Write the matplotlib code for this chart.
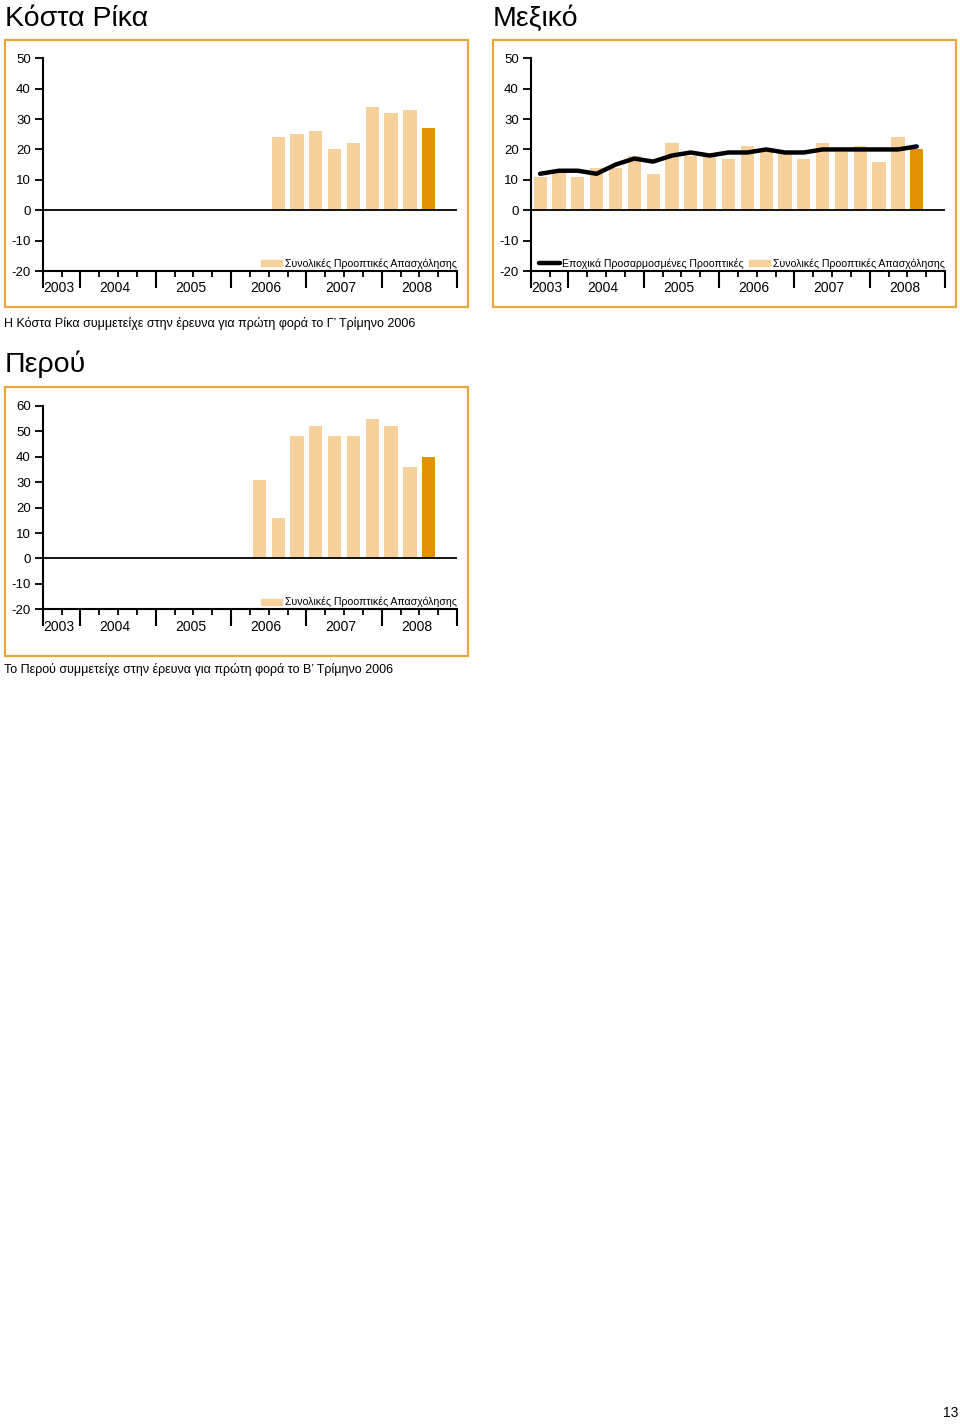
import matplotlib
matplotlib.use('Agg')
import matplotlib.pyplot as plt
import numpy as np
from matplotlib.patches import Rectangle, Patch
from matplotlib.lines import Line2D
from matplotlib.transforms import ScaledTranslation

plt.rcParams['font.family'] = ['Liberation Sans', 'DejaVu Sans']
plt.rcParams['axes.unicode_minus'] = False

# quarters shown on the x axis: 2003 Q3 .. 2008 Q4
quarters = ['2003Q3', '2003Q4'] + [f'{y}Q{q}' for y in range(2004, 2009) for q in range(1, 5)]
years = ['2003', '2004', '2005', '2006', '2007', '2008']

# Net employment outlook (%), last value = current quarter
costa_rica_start = '2006Q3'
costa_rica = [24, 25, 26, 20, 22, 34, 32, 33, 27]

mexico_start = '2003Q3'
mexico = [11, 13, 11, 14, 14, 18, 12, 22, 18, 18, 17, 21, 20, 19, 17, 22, 19, 21, 16, 24, 20]
mexico_sa = [12, 13, 13, 12, 15, 17, 16, 18, 19, 18, 19, 19, 20, 19, 19, 20, 20, 20, 20, 20, 21]

peru_start = '2006Q2'
peru = [31, 16, 48, 52, 48, 48, 55, 52, 36, 40]

lbl_total = 'Συνολικές Προοπτικές Απασχόλησης'
lbl_sa = 'Εποχικά Προσαρμοσμένες Προοπτικές'

LIGHT = '#F6D19B'
DARK = '#E39205'
FRAME = '#E7A73A'

W, H = 960, 1424
fig = plt.figure(figsize=(W / 100, H / 100), dpi=100)


def rect(left, top, right, bottom):
    return [left / W, 1 - bottom / H, (right - left) / W, (bottom - top) / H]


def frame(left, top, right, bottom):
    fig.add_artist(Rectangle((left / W, 1 - bottom / H), (right - left) / W, (bottom - top) / H,
                             transform=fig.transFigure, fill=False, edgecolor=FRAME, lw=1.6))


def panel(pos, values, start, ymax, sa=None):
    ax = fig.add_axes(pos)
    i0 = quarters.index(start)
    x = np.arange(i0, i0 + len(values)) + 0.5
    colors = [LIGHT] * (len(values) - 1) + [DARK]
    ax.bar(x, values, width=0.7, color=colors, zorder=2)
    ax.axhline(0, color='black', lw=1.3, zorder=3)
    handles = []
    labels = []
    if sa is not None:
        ax.plot(x, sa, color='black', lw=3.2, solid_capstyle='round', solid_joinstyle='round', zorder=4)
        handles.append(Line2D([], [], color='black', lw=3.2, solid_capstyle='round'))
        labels.append(lbl_sa)
    handles.append(Patch(color=LIGHT))
    labels.append(lbl_total)

    n = len(quarters)
    ax.set_xlim(0, n)
    ax.set_ylim(-20, ymax)
    ax.set_yticks(np.arange(-20, ymax + 1, 10))
    ax.tick_params(axis='y', direction='out', length=6, width=1.3, pad=2.5, labelsize=9.5)

    # year boundaries (major) and quarter marks (minor, carrying the year labels)
    major = [0] + [i for i, q in enumerate(quarters) if q.endswith('Q1')] + [n]
    minor = [i for i in range(1, n) if i not in major]
    ax.set_xticks(major)
    ax.set_xticklabels([''] * len(major))
    centers = {}
    for y in years:
        idx = [i for i, q in enumerate(quarters) if q.startswith(y)]
        centers[(min(idx) + max(idx) + 1) / 2] = y
    minor_all = sorted(set(minor) | set(centers))
    ax.set_xticks(minor_all, minor=True)
    ax.set_xticklabels([centers.get(c, '') for c in minor_all], minor=True, fontsize=10)
    ax.tick_params(axis='x', which='major', direction='out', length=12, width=1.5)
    ax.tick_params(axis='x', which='minor', direction='out', length=4, width=1.3, pad=3.5)
    shift = ScaledTranslation(-3 / 100, 0, fig.dpi_scale_trans)
    for t, c in zip(ax.xaxis.get_minor_ticks(), minor_all):
        t.label1.set_transform(t.label1.get_transform() + shift)
        if c not in minor:
            t.tick1line.set_visible(False)

    for s in ['top', 'right']:
        ax.spines[s].set_visible(False)
    for s in ['left', 'bottom']:
        ax.spines[s].set_linewidth(1.5)

    ax.legend(handles, labels, loc='lower right', bbox_to_anchor=(1.0, 0.01), ncol=len(handles),
              frameon=False, fontsize=7.6, handlelength=2.0, handleheight=0.5, handletextpad=0.25,
              columnspacing=0.5, borderpad=0, borderaxespad=0)
    return ax


# Costa Rica
frame(5, 40, 468, 307)
panel(rect(42.7, 58.3, 457, 271), costa_rica, costa_rica_start, 50)
fig.text(5 / W, 1 - 26 / H, 'Κόστα Ρίκα', fontsize=20.5, va='baseline', ha='left')
fig.text(4 / W, 1 - 327 / H, 'Η Κόστα Ρίκα συμμετείχε στην έρευνα για πρώτη φορά το Γ’ Τρίμηνο 2006',
         fontsize=9.0, va='baseline', ha='left')

# Mexico
frame(493, 40, 956, 307)
panel(rect(530.7, 58.3, 945, 271), mexico, mexico_start, 50, sa=mexico_sa)
fig.text(493 / W, 1 - 26 / H, 'Μεξικό', fontsize=20.5, va='baseline', ha='left')

# Peru
frame(5, 387, 468, 656)
panel(rect(42.7, 406, 457, 609.3), peru, peru_start, 60)
fig.text(5 / W, 1 - 372 / H, 'Περού', fontsize=20.5, va='baseline', ha='left')
fig.text(4 / W, 1 - 673 / H, 'Το Περού συμμετείχε στην έρευνα για πρώτη φορά το Β’ Τρίμηνο 2006',
         fontsize=9.0, va='baseline', ha='left')

fig.text(958 / W, 1 - 1417 / H, '13', fontsize=10, va='baseline', ha='right')

fig.savefig('out.png', dpi=100)
